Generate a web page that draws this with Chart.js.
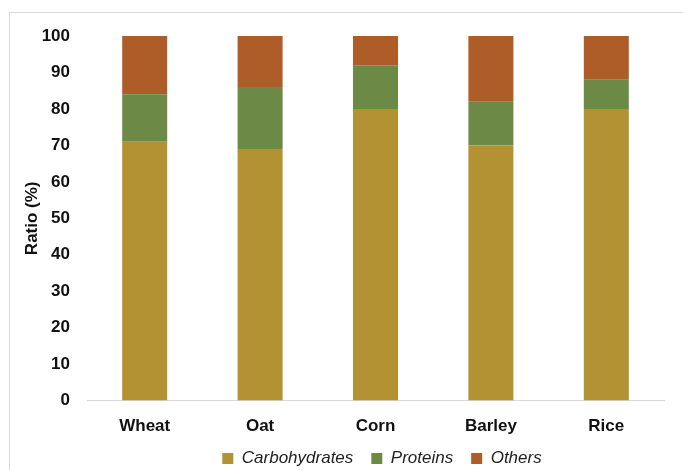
<!DOCTYPE html>
<html>
<head>
<meta charset="utf-8">
<script src="https://cdn.jsdelivr.net/npm/chart.js@4"></script>
<style>
  body { margin: 0; background: #fff; }
  #frame { position: absolute; left: 9px; top: 12px; width: 720px; height: 500px; border: 1px solid #d9d9d9; }
  #wrap { position: absolute; left: 0; top: 0; width: 683px; height: 470px; }
</style>
</head>
<body>
<div id="frame"></div>
<div id="wrap"><canvas id="bar_chart" width="683" height="470"></canvas></div>
<script>
var cereals = ["Wheat", "Oat", "Corn", "Barley", "Rice"]
var carbohydrates = [71, 69, 80, 70, 80]
var proteins = [13, 17, 12, 12, 8]
var others = [16, 14, 8, 18, 12]

var ctx = document.getElementById("bar_chart")

// move the legend so it sits under the middle of the bars like in the original
var legendShift = {
    id: 'legendShift',
    afterLayout: function (chart) {
        var lg = chart.legend
        var dx = 382 - (lg.left + lg.right) / 2
        lg.left += dx
        lg.right += dx
        lg.top -= 13
        lg.bottom -= 13
    }
}

var myBarChart = new Chart(ctx, {
    type: 'bar',
    data: {
        labels: cereals,
        datasets: [
            { label: "Carbohydrates", data: carbohydrates, backgroundColor: "#b29232" },
            { label: "Proteins", data: proteins, backgroundColor: "#6d8946" },
            { label: "Others", data: others, backgroundColor: "#ae5c28" }
        ]
    },
    plugins: [legendShift],
    options: {
        responsive: false,
        animation: false,
        layout: { padding: { top: 36, right: 19, left: 18, bottom: -20 } },
        datasets: { bar: { categoryPercentage: 1, barPercentage: 0.39 } },
        plugins: {
            legend: {
                position: 'bottom',
                labels: {
                    color: '#222',
                    font: { family: 'Liberation Sans', size: 17, style: 'italic' },
                    boxWidth: 11,
                    boxHeight: 11,
                    padding: 18
                }
            },
            tooltip: { enabled: false }
        },
        scales: {
            x: {
                stacked: true,
                grid: { display: false },
                border: { color: '#d9d9d9', width: 1 },
                ticks: { color: '#111', padding: 8, font: { family: 'Liberation Sans', size: 17, weight: 'bold' } }
            },
            y: {
                stacked: true,
                min: 0,
                max: 100,
                grid: { display: false },
                border: { display: false },
                afterFit: function (scale) { scale.width = 69 },
                ticks: { stepSize: 10, color: '#111', padding: 9, font: { family: 'Liberation Sans', size: 17, weight: 'bold' } },
                title: { display: true, text: 'Ratio (%)', color: '#111', font: { family: 'Liberation Sans', size: 17, weight: 'bold' } }
            }
        }
    }
})
</script>
</body>
</html>
